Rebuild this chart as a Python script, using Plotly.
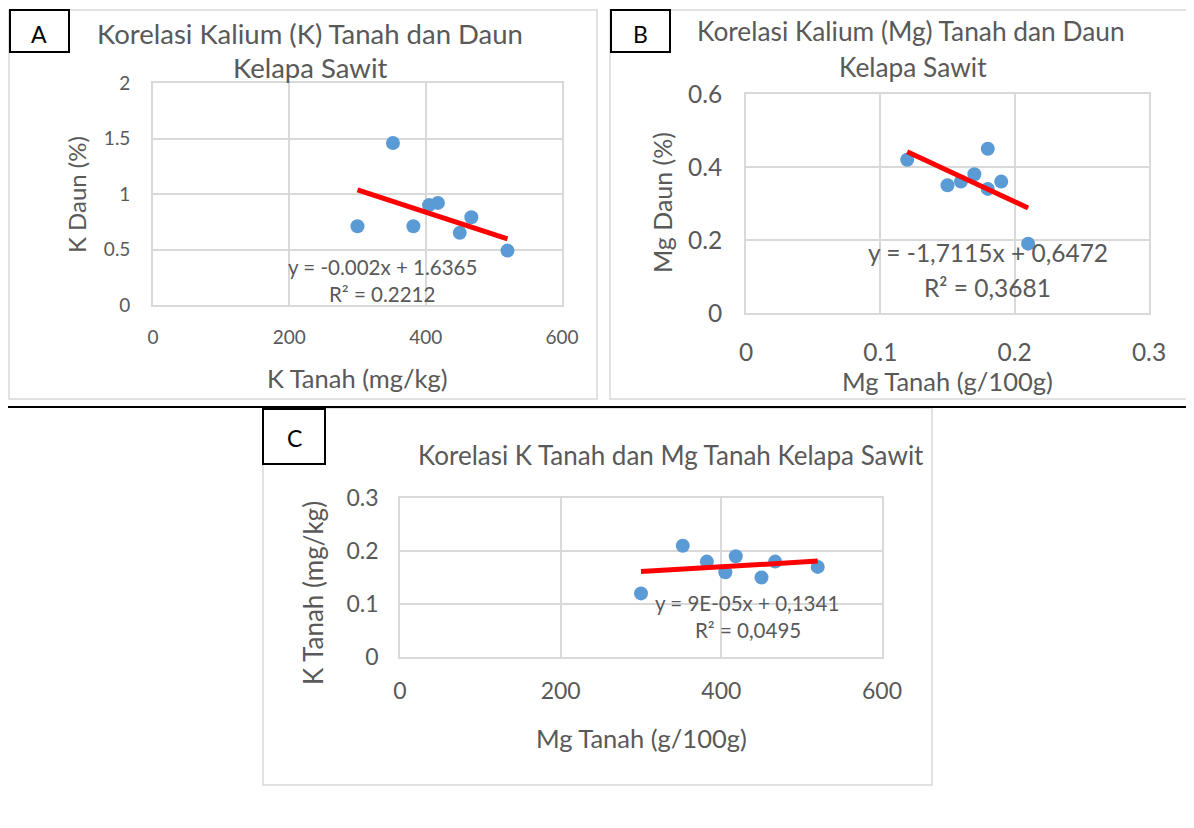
import plotly.graph_objects as go

# page body has an 8px margin; figure placed so that it lines up with the window
OFF = 8
W, H = 1194 - OFF, 828 - OFF
FONT = "Lato"
GRAY = "#595959"
GRID = "#d9d9d9"
BLUE = "#5B9BD5"
RED = "#FF0000"

# ---- data ----
k_tanah = [300, 352, 382, 405, 418, 450, 467, 520]
k_daun = [0.71, 1.46, 0.71, 0.90, 0.92, 0.65, 0.79, 0.49]

mg_tanah = [0.12, 0.15, 0.16, 0.17, 0.18, 0.18, 0.19, 0.21]
mg_daun = [0.42, 0.35, 0.36, 0.38, 0.45, 0.34, 0.36, 0.19]

c_x = [300, 352, 382, 405, 418, 450, 467, 520]
c_y = [0.12, 0.21, 0.18, 0.16, 0.19, 0.15, 0.18, 0.17]

# trendline coefficients (from chart equations)
trend_a = (-0.002, 1.6365)
trend_b = (-1.7115, 0.6472)
trend_c = (9e-05, 0.1341)

x_ticks_a = [0, 200, 400, 600]
y_ticks_a = [0, 0.5, 1, 1.5, 2]
y_text_a = ["0", "0.5", "1", "1.5", "2"]
x_ticks_b = [0, 0.1, 0.2, 0.3]
x_text_b = ["0", "0.1", "0.2", "0.3"]
y_ticks_b = [0, 0.2, 0.4, 0.6]
y_text_b = ["0", "0.2", "0.4", "0.6"]
x_ticks_c = [0, 200, 400, 600]
y_ticks_c = [0, 0.1, 0.2, 0.3]
y_text_c = ["0", "0.1", "0.2", "0.3"]


def px(x):
    return (x - OFF) / W


def py(y):
    return 1 - (y - OFF) / H


fig = go.Figure()


def add_panel(idx, xs, ys, coef):
    xa = "x" if idx == 1 else f"x{idx}"
    ya = "y" if idx == 1 else f"y{idx}"
    fig.add_trace(go.Scatter(x=xs, y=ys, mode="markers",
                             marker=dict(color=BLUE, size=14, line=dict(width=0)),
                             xaxis=xa, yaxis=ya, showlegend=False,
                             cliponaxis=False))
    x0, x1 = min(xs), max(xs)
    fig.add_trace(go.Scatter(x=[x0, x1],
                             y=[coef[0] * x0 + coef[1], coef[0] * x1 + coef[1]],
                             mode="lines", line=dict(color=RED, width=5),
                             xaxis=xa, yaxis=ya, showlegend=False))


add_panel(1, k_tanah, k_daun, trend_a)
add_panel(2, mg_tanah, mg_daun, trend_b)
add_panel(3, c_x, c_y, trend_c)


def axis_common(size, standoff_len):
    return dict(showgrid=True, gridcolor=GRID, gridwidth=1.6,
                showline=True, linecolor=GRID, linewidth=1.6, mirror=True,
                zeroline=False, ticks="outside", tickcolor="rgba(0,0,0,0)",
                ticklen=standoff_len, automargin=False,
                tickfont=dict(family=FONT, size=size, color=GRAY),
                fixedrange=True)


fig.update_layout(
    template="none",
    width=W, height=H, margin=dict(l=0, r=0, t=0, b=0, pad=0, autoexpand=False),
    paper_bgcolor="white", plot_bgcolor="white",
    xaxis=dict(domain=[px(153), px(562)], range=[0, 600], tickvals=x_ticks_a,
               anchor="y", **axis_common(19, 14)),
    yaxis=dict(domain=[py(305), py(83)], range=[0, 2], tickvals=y_ticks_a,
               ticktext=y_text_a, anchor="x", **axis_common(19, 17)),
    xaxis2=dict(domain=[px(746), px(1149)], range=[0, 0.3], tickvals=x_ticks_b,
                ticktext=x_text_b, anchor="y2", **axis_common(24.5, 17)),
    yaxis2=dict(domain=[py(313), py(94)], range=[0, 0.6], tickvals=y_ticks_b,
                ticktext=y_text_b, anchor="x2", **axis_common(24.5, 17)),
    xaxis3=dict(domain=[px(400), px(882)], range=[0, 600], tickvals=x_ticks_c,
                anchor="y3", **axis_common(23, 13)),
    yaxis3=dict(domain=[py(657), py(498)], range=[0, 0.3], tickvals=y_ticks_c,
                ticktext=y_text_c, anchor="x3", **axis_common(23, 15)),
)

shapes = []
# panel borders
for (x0, y0, x1, y1) in [(9, 10, 597, 399), (610, 10, 1200, 399), (263, 408, 932, 785)]:
    shapes.append(dict(type="rect", xref="paper", yref="paper",
                       x0=px(x0), x1=px(x1), y0=py(y1), y1=py(y0),
                       line=dict(color=GRID, width=1.5), layer="below"))
# dividing black line
shapes.append(dict(type="line", xref="paper", yref="paper",
                   x0=px(0), x1=px(1200), y0=py(407), y1=py(407),
                   line=dict(color="black", width=2)))
# letter boxes
for (x0, y0, x1, y1) in [(10, 10, 69, 52), (611, 10, 670, 52), (263, 409, 325, 464)]:
    shapes.append(dict(type="rect", xref="paper", yref="paper",
                       x0=px(x0), x1=px(x1), y0=py(y1), y1=py(y0),
                       line=dict(color="black", width=2), fillcolor="white"))
fig.update_layout(shapes=shapes)

anns = []


def txt(t, x, y, size, color=GRAY, angle=0):
    anns.append(dict(text=t, x=px(x), y=py(y), xref="paper", yref="paper",
                     showarrow=False, xanchor="center", yanchor="middle",
                     textangle=angle,
                     font=dict(family=FONT, size=size, color=color)))


# letters
txt("A", 39, 34, 23, "black")
txt("B", 640, 34, 23, "black")
txt("C", 294, 438, 23, "black")

# titles
txt("Korelasi Kalium (K) Tanah dan Daun", 310, 33, 27.5)
txt("Kelapa Sawit", 310, 68, 27.5)
txt("Korelasi Kalium (Mg) Tanah dan Daun", 911, 31, 26.3)
txt("Kelapa Sawit", 913, 67, 26.3)
txt("Korelasi K Tanah dan Mg Tanah Kelapa Sawit", 671, 455, 26)

# axis titles
txt("K Daun (%)", 77, 195, 24, angle=-90)
txt("K Tanah (mg/kg)", 357, 378, 25.5)
txt("Mg Daun (%)", 662, 203, 25, angle=-90)
txt("Mg Tanah (g/100g)", 947, 381, 25.5)
txt("K Tanah (mg/kg)", 313, 593, 26, angle=-90)
txt("Mg Tanah (g/100g)", 641, 738, 25.5)

# equations
txt("y = -0.002x + 1.6365", 382, 267, 20.5)
txt("R² = 0.2212", 382, 294, 20.5)
txt("y = -1,7115x + 0,6472", 988, 252, 24.5)
txt("R² = 0,3681", 987, 287, 24.5)
txt("y = 9E-05x + 0,1341", 747, 603, 20.5)
txt("R² = 0,0495", 748, 630, 20.5)

fig.update_layout(annotations=anns)

fig.write_html("out.html")
